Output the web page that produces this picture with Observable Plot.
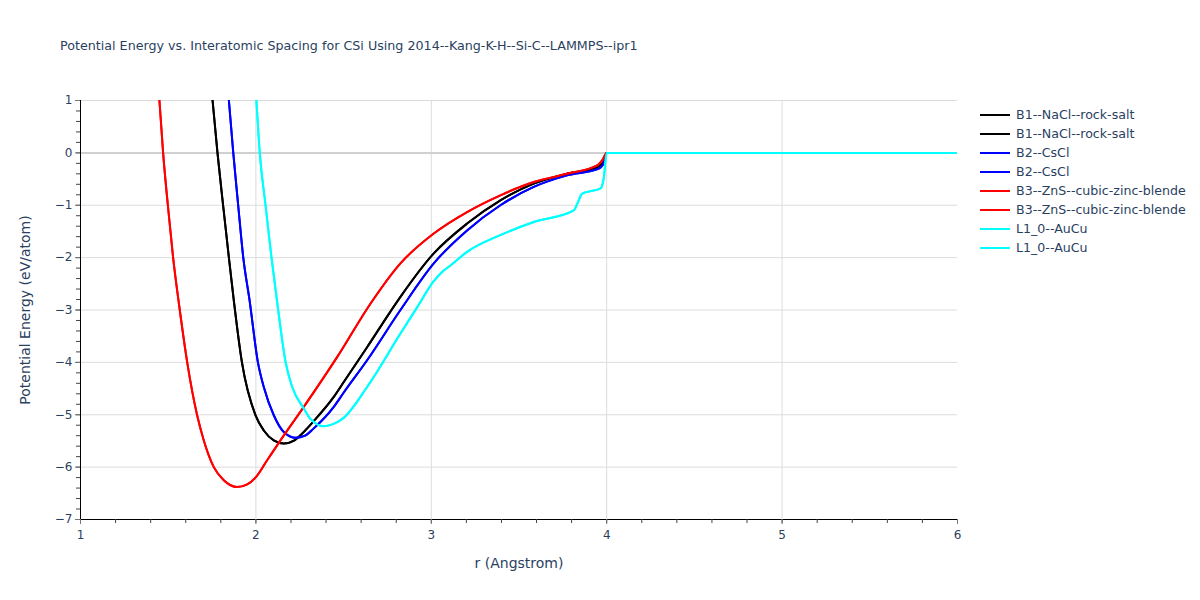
<!DOCTYPE html>
<html>
<head>
<meta charset="utf-8">
<script src="https://cdn.jsdelivr.net/npm/d3@7"></script>
<script src="https://cdn.jsdelivr.net/npm/@observablehq/plot@0.6"></script>
<style>
  html, body { margin: 0; padding: 0; background: #fff; }
  #wrap { position: relative; width: 1200px; height: 600px; font-family: "DejaVu Sans", Verdana, sans-serif; color: #2a3f5f; }
  #title { position: absolute; left: 60px; top: 38px; font-size: 12.7px; white-space: nowrap; }
  #legend { position: absolute; left: 980px; top: 105px; font-size: 12.6px; }
  .item { height: 19px; display: flex; align-items: center; white-space: nowrap; }
  .swatch { width: 30px; height: 2px; margin-right: 6px; }
  #chart { position: absolute; left: 0; top: 0; }
  #xlabel { position: absolute; left: 519px; top: 563px; transform: translate(-50%, -50%); font-size: 14px; white-space: nowrap; }
  #ylabel { position: absolute; left: 25px; top: 310px; transform: translate(-50%, -50%) rotate(-90deg); font-size: 14px; white-space: nowrap; }
</style>
</head>
<body>
<div id="wrap">
  <div id="chart"></div>
  <div id="title">Potential Energy vs. Interatomic Spacing for CSi Using 2014--Kang-K-H--Si-C--LAMMPS--ipr1</div>
  <div id="xlabel">r (Angstrom)</div>
  <div id="ylabel">Potential Energy (eV/atom)</div>
  <div id="legend"></div>
</div>
<script>
// ---- data: [r (Angstrom), E (eV/atom)] ----
const b1 = [[1.753,1],[1.781,0],[1.813,-1],[1.846,-2],[1.874,-2.815],[1.92,-3.99],[1.998,-5.01],[2.045,-5.30],[2.102,-5.49],[2.159,-5.55],[2.22,-5.49],[2.254,-5.39],[2.33,-5.12],[2.444,-4.66],[2.50,-4.38],[2.634,-3.71],[2.767,-3.03],[2.824,-2.75],[3.014,-1.92],[3.204,-1.35],[3.394,-0.906],[3.584,-0.588],[3.774,-0.40],[3.946,-0.28],[3.975,-0.2],[4.0,0],[6,0]];
const b2 = [[1.846,1],[1.871,0],[1.899,-1],[1.928,-2],[1.964,-2.815],[2.011,-3.99],[2.045,-4.47],[2.102,-5.01],[2.159,-5.33],[2.226,-5.44],[2.28,-5.40],[2.33,-5.26],[2.444,-4.85],[2.50,-4.58],[2.634,-3.96],[2.824,-3.0],[3.014,-2.11],[3.204,-1.48],[3.394,-1.0],[3.584,-0.65],[3.774,-0.43],[3.955,-0.30],[3.98,-0.22],[4.0,0],[6,0]];
const b3 = [[1.45,1],[1.471,0],[1.498,-1],[1.528,-2],[1.566,-3],[1.608,-3.99],[1.665,-5.01],[1.703,-5.49],[1.76,-6.0],[1.817,-6.25],[1.893,-6.38],[1.95,-6.33],[2.0,-6.19],[2.064,-5.87],[2.14,-5.49],[2.273,-4.85],[2.463,-3.9],[2.653,-2.88],[2.824,-2.11],[3.014,-1.54],[3.204,-1.13],[3.394,-0.81],[3.584,-0.557],[3.774,-0.40],[3.946,-0.24],[3.975,-0.14],[4.0,0],[6,0]];
const l10 = [[2.003,1],[2.022,0],[2.055,-1],[2.089,-2],[2.127,-3],[2.169,-3.99],[2.207,-4.47],[2.273,-4.88],[2.311,-5.08],[2.387,-5.22],[2.44,-5.18],[2.50,-5.06],[2.634,-4.47],[2.824,-3.45],[2.919,-2.95],[3.014,-2.45],[3.06,-2.28],[3.109,-2.15],[3.204,-1.89],[3.394,-1.57],[3.584,-1.32],[3.812,-1.10],[3.835,-0.95],[3.86,-0.78],[3.965,-0.68],[3.983,-0.49],[4.0,0],[6,0]];

const seriesNames = ["B1--NaCl--rock-salt","B1--NaCl--rock-salt","B2--CsCl","B2--CsCl","B3--ZnS--cubic-zinc-blende","B3--ZnS--cubic-zinc-blende","L1_0--AuCu","L1_0--AuCu"];
const seriesColors = ["#000000","#000000","#0000ff","#0000ff","#ff0000","#ff0000","#00ffff","#00ffff"];
const seriesData = [b1, b1, b2, b2, b3, b3, l10, l10];

const xTicks = [1,2,3,4,5,6];
const yTicks = [1,0,-1,-2,-3,-4,-5,-6,-7];
const xGrid = [2,3,4,5];
const yGrid = [1,-1,-2,-3,-4,-5,-6];
const xMinor = d3.range(0, 26).map(i => 1 + i * 0.2);
const yMinor = d3.range(0, 41).map(i => -7 + i * 0.2);

const lineMarks = seriesData.map((d, i) =>
  Plot.line(d, {x: p => p[0], y: p => p[1], stroke: seriesColors[i], strokeWidth: 2, curve: "monotone-x", clip: true})
);

const chart = Plot.plot({
  width: 1200,
  height: 600,
  marginLeft: 80,
  marginRight: 243,
  marginTop: 100,
  marginBottom: 81,
  style: {fontFamily: '"DejaVu Sans", Verdana, sans-serif', fontSize: "12px", color: "#2a3f5f", background: "transparent"},
  x: {domain: [1, 6]},
  y: {domain: [-7, 1]},
  marks: [
    Plot.ruleX(xGrid, {stroke: "#dcdcdc", strokeWidth: 1}),
    Plot.ruleY(yGrid, {stroke: "#dcdcdc", strokeWidth: 1}),
    Plot.ruleY([0], {stroke: "#d0d0d0", strokeWidth: 2}),
    ...lineMarks,
    Plot.ruleX([1], {stroke: "#000", strokeWidth: 1}),
    Plot.ruleY([-7], {stroke: "#000", strokeWidth: 1}),
    Plot.axisX({ticks: xMinor, tickSize: 4, text: null, stroke: "#444", label: null}),
    Plot.axisY({ticks: yMinor, tickSize: 4, text: null, stroke: "#444", label: null}),
    Plot.axisX({ticks: xTicks, tickSize: 5, tickPadding: 6, stroke: "#777", fill: "#2a3f5f", label: null, tickFormat: d3.format("d")}),
    Plot.axisY({ticks: yTicks, tickSize: 5, tickPadding: 3, stroke: "#777", fill: "#2a3f5f", label: null, tickFormat: d => (d < 0 ? "\u2212" + Math.abs(d) : String(d))})
  ]
});
document.getElementById("chart").appendChild(chart);

const legend = document.getElementById("legend");
seriesNames.forEach((name, i) => {
  const item = document.createElement("div");
  item.className = "item";
  const sw = document.createElement("div");
  sw.className = "swatch";
  sw.style.background = seriesColors[i];
  const tx = document.createElement("span");
  tx.textContent = name;
  item.appendChild(sw);
  item.appendChild(tx);
  legend.appendChild(item);
});
</script>
</body>
</html>
